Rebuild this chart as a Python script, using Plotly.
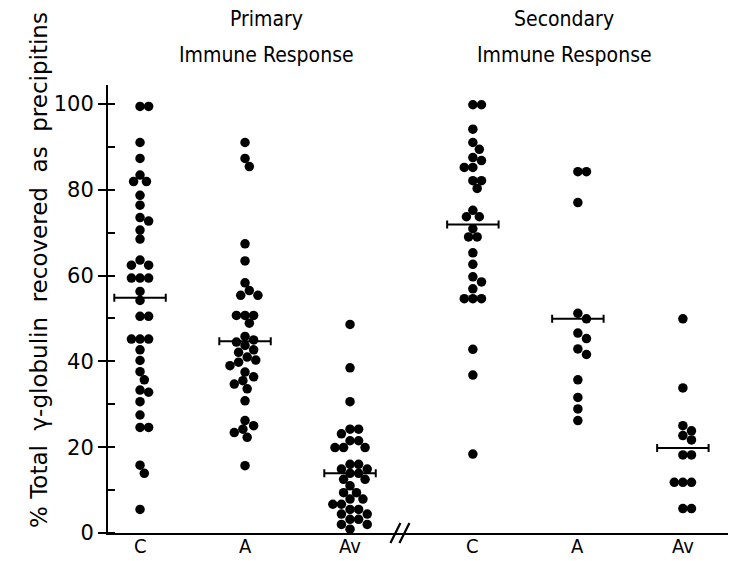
import plotly.graph_objects as go

# ---------------- data ----------------
categories = ["C", "A", "Av", "C", "A", "Av"]
groups = ["Primary", "Primary", "Primary", "Secondary", "Secondary", "Secondary"]

primary_C = [99.4, 99.4, 91.0, 87.3, 83.4, 81.9, 81.9, 78.7, 76.4, 73.5, 72.7, 70.6,
             68.5, 63.6, 62.4, 62.4, 59.4, 59.4, 59.4, 56.3, 54.2, 50.5, 50.5, 45.2,
             45.2, 45.2, 42.7, 40.2, 37.6, 35.7, 33.3, 32.8, 30.6, 27.5, 24.6, 24.6,
             15.8, 13.9, 5.5]
primary_A = [91.0, 87.3, 85.4, 67.4, 63.4, 58.3, 56.5, 55.4, 55.4, 50.7, 50.7, 50.7,
             48.9, 45.8, 45.0, 44.5, 43.7, 42.7, 42.1, 41.0, 40.3, 39.8, 39.0, 37.5,
             36.4, 35.5, 34.7, 33.6, 30.8, 26.2, 25.0, 24.2, 23.4, 22.3, 15.7]
primary_Av = [48.6, 38.5, 30.6, 24.2, 24.2, 23.1, 21.5, 21.5, 19.9, 19.9, 19.9, 16.0,
              16.0, 14.9, 14.9, 13.9, 13.9, 12.5, 12.5, 11.0, 9.4, 9.4, 7.9, 7.9, 6.7,
              6.7, 5.5, 5.5, 4.4, 4.4, 3.2, 3.2, 2.0, 2.0, 0.9]
secondary_C = [99.8, 99.8, 94.1, 91.0, 89.4, 87.5, 86.8, 85.2, 85.2, 82.1, 82.1, 80.3,
               75.2, 73.7, 73.7, 70.9, 69.0, 69.0, 65.3, 62.6, 59.7, 58.5, 56.9, 54.6,
               54.6, 54.6, 42.8, 36.8, 18.4]
secondary_A = [84.2, 84.2, 77.0, 51.2, 49.9, 46.6, 45.3, 42.9, 41.6, 35.7, 31.6, 28.9,
               26.2]
secondary_Av = [49.9, 33.8, 25.0, 23.8, 22.7, 21.7, 18.2, 18.2, 11.8, 11.8, 11.8, 5.7,
                5.7]
means = [54.8, 44.7, 13.9, 71.9, 49.9, 19.8]

y_ticks = [0, 20, 40, 60, 80, 100]
y_title = "% Total  γ-globulin  recovered  as  precipitins"
title_line1 = ["Primary", "Secondary"]
title_line2 = ["Immune Response", "Immune Response"]

series = [primary_C, primary_A, primary_Av, secondary_C, secondary_A, secondary_Av]

# ---------------- layout constants ----------------
# the page adds an 8px body margin, so the figure is 8px smaller than the window
W, H = 728, 553
ML, MR, MT, MB = 100, 0, 77, 28
PW, PH = W - ML - MR, H - MT - MB
GROUP_GAP = 0.17
positions = [i + (GROUP_GAP if g == "Secondary" else 0) for i, g in enumerate(groups)]
XPX = 105.0
XR = [-0.305, -0.305 + PW / XPX]
YR = [0, 104.4]
xscale = PW / (XR[1] - XR[0])   # px per x unit
yscale = PH / (YR[1] - YR[0])   # px per y unit
BREAK_AT = 2.48
FONT = "DejaVu Sans"
NARROW = "Liberation Sans Narrow, DejaVu Sans Condensed, Arial Narrow, sans-serif"


def swarm(vals, center, diam=8.6):
    placed = []
    xs = []
    step = diam / 4.0
    cands = [0.0]
    for k in range(1, 40):
        cands += [k * step, -k * step]
    for v in vals:
        ypx = v * yscale
        for off in cands:
            ok = True
            for (px, py) in placed:
                if (px - off) ** 2 + (py - ypx) ** 2 < diam ** 2:
                    ok = False
                    break
            if ok:
                break
        placed.append((off, ypx))
        xs.append(center + off / xscale)
    return xs


fig = go.Figure()
for vals, pos in zip(series, positions):
    fig.add_trace(go.Scatter(
        x=swarm(vals, pos), y=vals, mode="markers",
        marker=dict(color="black", size=9.5, line=dict(width=0)),
        showlegend=False, hoverinfo="skip"))

# mean bars
fig.add_trace(go.Scatter(
    x=positions, y=means, mode="markers",
    marker=dict(size=1, color="rgba(0,0,0,0)"),
    error_x=dict(type="constant", value=0.245, color="black", thickness=2, width=4),
    showlegend=False, hoverinfo="skip"))


def px2paper_x(px):
    return (px - ML) / PW


def px2paper_y(py):
    return (H - MB - py) / PH


# axis break "//"
bx = ML + (BREAK_AT - XR[0]) * xscale
shapes = []
for dx in (-5, 4):
    shapes.append(dict(type="line", xref="paper", yref="paper",
                       x0=px2paper_x(bx + dx - 5), y0=px2paper_y(H - MB + 10),
                       x1=px2paper_x(bx + dx + 5), y1=px2paper_y(H - MB - 10),
                       line=dict(color="black", width=2.2)))

annotations = []
title_px = [258, 556]
for t1, t2, c in zip(title_line1, title_line2, title_px):
    annotations.append(dict(text=t1, x=px2paper_x(c), xref="paper", y=px2paper_y(11),
                            yref="paper", showarrow=False,
                            font=dict(family=NARROW, size=21, color="black"),
                            xanchor="center", yanchor="middle"))
    annotations.append(dict(text=t2, x=px2paper_x(c), xref="paper", y=px2paper_y(47),
                            yref="paper", showarrow=False,
                            font=dict(family=NARROW, size=21, color="black"),
                            xanchor="center", yanchor="middle"))
# category labels under the axis
for cat, pos in zip(categories, positions):
    annotations.append(dict(text=cat, x=pos, xref="x", y=px2paper_y(538), yref="paper",
                            showarrow=False,
                            font=dict(family=NARROW, size=20, color="black"),
                            xanchor="center", yanchor="middle", borderpad=0))
annotations.append(dict(text=y_title, x=px2paper_x(31), y=px2paper_y(262), xref="paper",
                        yref="paper", textangle=-90, showarrow=False,
                        font=dict(family=FONT, size=23, color="black"),
                        xanchor="center", yanchor="middle"))

fig.update_layout(
    width=W, height=H,
    margin=dict(l=ML, r=MR, t=MT, b=MB),
    paper_bgcolor="white", plot_bgcolor="white",
    shapes=shapes, annotations=annotations,
    xaxis=dict(range=XR, showgrid=False, zeroline=False, showline=True,
               linecolor="black", linewidth=2, tickvals=positions,
               showticklabels=False, ticks=""),
    yaxis=dict(range=YR, showgrid=False, zeroline=False, showline=True,
               linecolor="black", linewidth=2, tickvals=y_ticks, ticks="outside",
               ticklen=8, tickwidth=2, tickcolor="black",
               tickfont=dict(family=FONT, size=21, color="black"),
               minor=dict(ticks="inside", dtick=10, tick0=0, ticklen=7, tickwidth=1.5,
                          tickcolor="black", showgrid=False)),
)

fig.write_html("out.html")
